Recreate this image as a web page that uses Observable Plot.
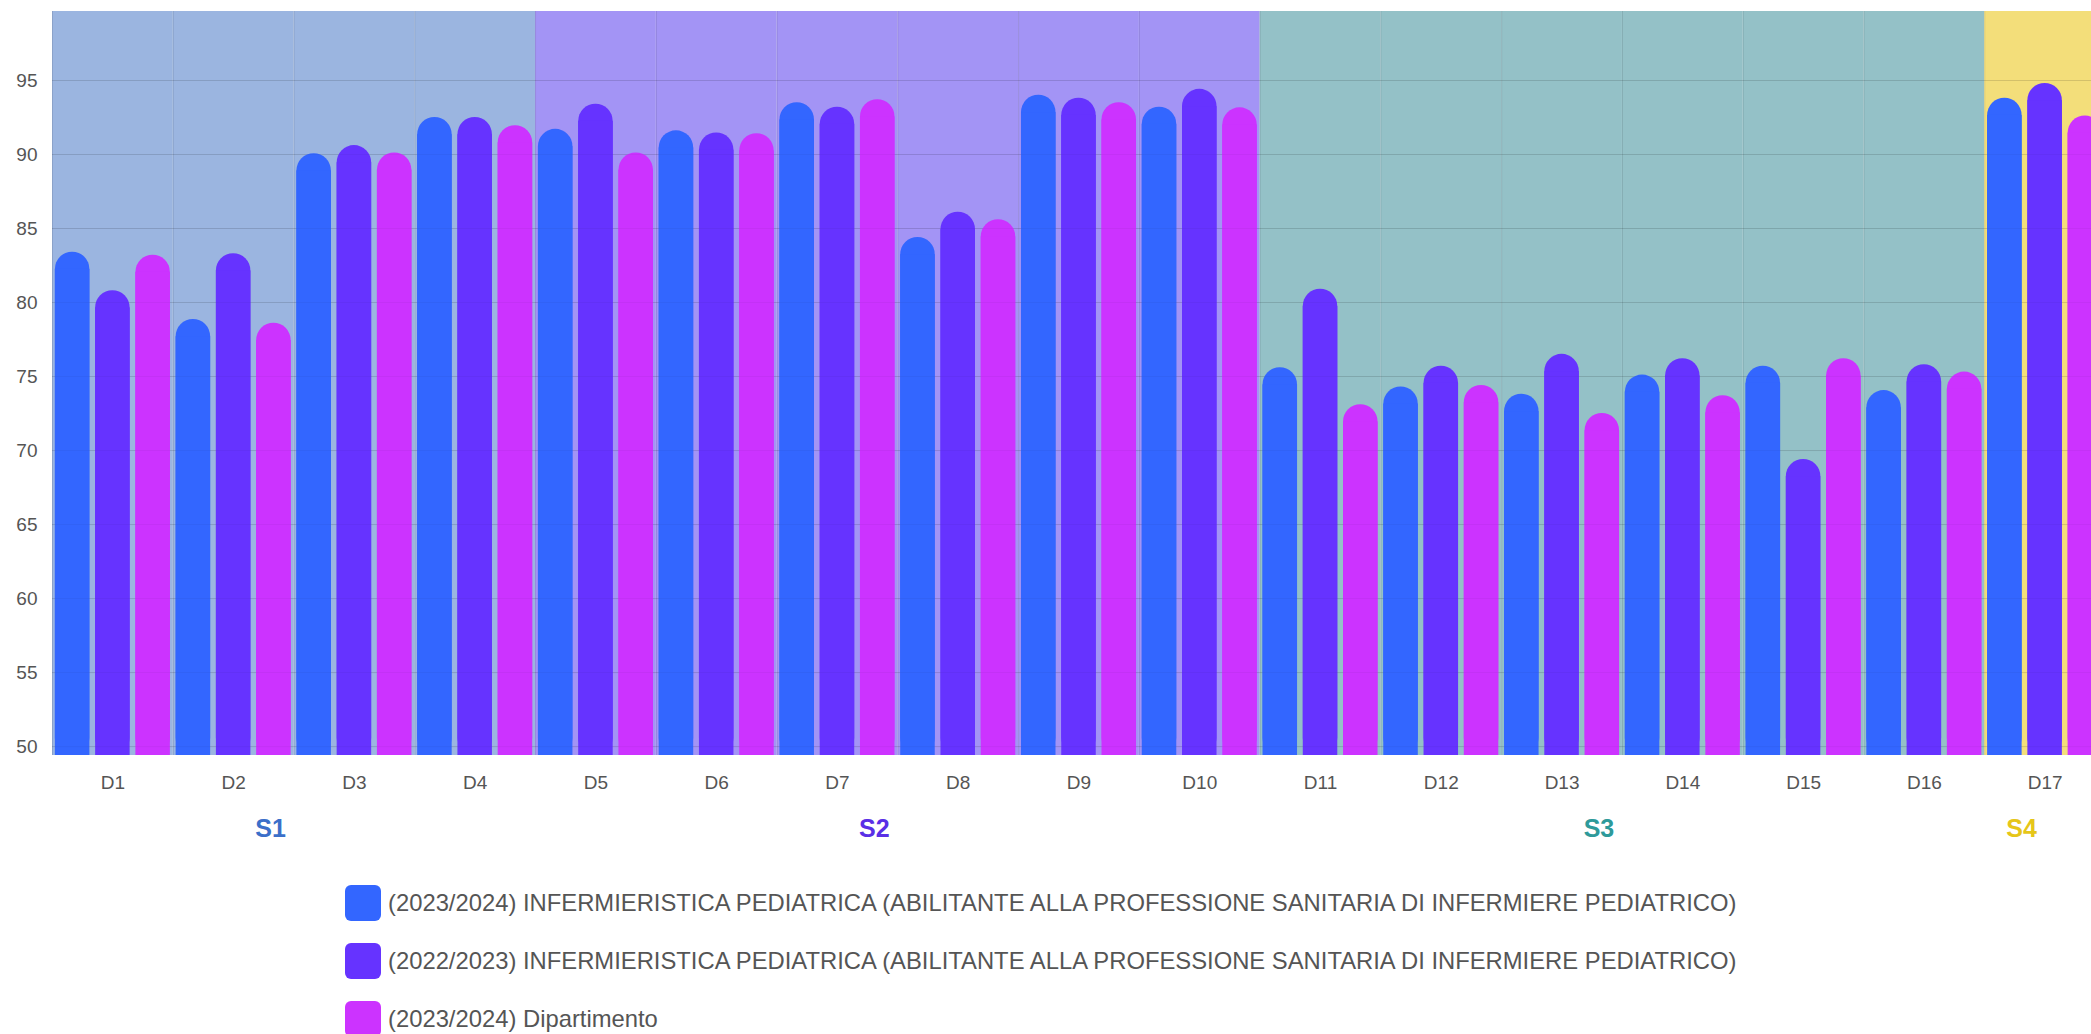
<!DOCTYPE html>
<html>
<head>
<meta charset="utf-8">
<script src="https://cdn.jsdelivr.net/npm/d3@7"></script>
<script src="https://cdn.jsdelivr.net/npm/@observablehq/plot@0.6"></script>
<style>
  html, body { margin: 0; padding: 0; background: #fff; overflow: hidden; }
  body { font-family: "Liberation Sans", Arial, sans-serif; }
  #chart svg { max-width: none !important; display: block; }
  #legend { padding-top: 29px; }
  .row { display: flex; align-items: center; height: 58px; }
  .sw { width: 36px; height: 36px; border-radius: 6px; margin-left: 345px; margin-right: 7px; flex: none; }
  .lb { font-size: 23.8px; color: #555; white-space: nowrap; }
</style>
</head>
<body>
<div id="chart"></div>
<div id="legend"></div>
<script>
// ---- data ----
const categories = ["D1","D2","D3","D4","D5","D6","D7","D8","D9","D10","D11","D12","D13","D14","D15","D16","D17"];
const categorySection = ["S1","S1","S1","S1","S2","S2","S2","S2","S2","S2","S3","S3","S3","S3","S3","S3","S4"];
const sectionNames = ["S1","S2","S3","S4"];
const seriesNames = [
  "(2023/2024) INFERMIERISTICA PEDIATRICA (ABILITANTE ALLA PROFESSIONE SANITARIA DI INFERMIERE PEDIATRICO)",
  "(2022/2023) INFERMIERISTICA PEDIATRICA (ABILITANTE ALLA PROFESSIONE SANITARIA DI INFERMIERE PEDIATRICO)",
  "(2023/2024) Dipartimento"
];
const values2324 = [83.4, 78.85, 90.05, 92.5, 91.7, 91.6, 93.5, 84.4, 94.0, 93.2, 75.6, 74.3, 73.8, 75.1, 75.7, 74.05, 93.8];
const values2223 = [80.8, 83.3, 90.6, 92.5, 93.4, 91.45, 93.2, 86.1, 93.8, 94.4, 80.9, 75.7, 76.5, 76.2, 69.4, 75.8, 94.8];
const valuesDip  = [83.2, 78.6, 90.1, 91.95, 90.1, 91.4, 93.7, 85.6, 93.5, 93.15, 73.1, 74.4, 72.5, 73.7, 76.2, 75.3, 92.6];
const yTicks = [50, 55, 60, 65, 70, 75, 80, 85, 90, 95];
const yDomain = [49.4, 99.66];

// ---- styles ----
const seriesColors = ["#3366ff", "#6633ff", "#cc33ff"];
const sectionFill = ["#9bb5e0", "#a394f5", "#94c1c7", "#f3de7a"];
const sectionText = ["#3b6fc9", "#5a2fe6", "#2e9a9a", "#e6c619"];

const W = 2105, marginLeft = 52, marginRight = 0, marginTop = 11, marginBottom = 90;
const H = 755 + marginBottom;
const bw = (W - marginLeft - marginRight) / categories.length;
const slot = bw / 3;
const barW = slot * 0.857;
const r = barW / 2;
const pxPerUnit = (H - marginTop - marginBottom) / (yDomain[1] - yDomain[0]);

const bgRows = categories.map((c, i) => ({cat: c, section: categorySection[i]}));
const seriesValues = [values2324, values2223, valuesDip];

const marks = [];
marks.push(Plot.barY(bgRows, {
  x: "cat", y1: yDomain[0], y2: yDomain[1], inset: 0,
  fill: d => sectionFill[sectionNames.indexOf(d.section)]
}));
marks.push(Plot.gridY(yTicks, {stroke: "#000", strokeOpacity: 0.1}));
marks.push(Plot.ruleX(categories, {x: d => d, dx: -bw / 2, stroke: "#000", strokeOpacity: 0.1}));

seriesValues.forEach((vals, s) => {
  const rows = categories.map((c, i) => ({cat: c, v: vals[i]}));
  const insetLeft = s * slot + (slot - barW) / 2;
  const insetRight = bw - insetLeft - barW;
  marks.push(Plot.barY(rows, {
    x: "cat", y1: yDomain[0], y2: "v", insetLeft, insetRight,
    rx: r, ry: r, fill: seriesColors[s]
  }));
  marks.push(Plot.barY(rows, {
    x: "cat", y1: yDomain[0], y2: d => d.v - r / pxPerUnit, insetLeft, insetRight,
    fill: seriesColors[s]
  }));
});
marks.push(Plot.gridY(yTicks, {stroke: "#000", strokeOpacity: 0.04}));

sectionNames.forEach((name, k) => {
  const idx = categorySection.map((s, i) => s === name ? i : -1).filter(i => i >= 0);
  const n = idx.length;
  marks.push(Plot.text([name], {
    x: () => categories[idx[0]],
    frameAnchor: "bottom", dy: 73, dx: (n - 1) * bw / 2 - 23.5,
    text: d => d, fill: sectionText[k], fontSize: 25, fontWeight: "bold",
    lineAnchor: "middle", textAnchor: "middle"
  }));
});

const chart = Plot.plot({
  width: W, height: H,
  marginLeft, marginRight, marginTop, marginBottom,
  style: {fontSize: "19px", fontFamily: "'Liberation Sans', Arial, sans-serif", color: "#555", background: "transparent"},
  x: {domain: categories, padding: 0, round: false, tickSize: 0, tickPadding: 20, label: null},
  y: {domain: yDomain, ticks: yTicks, tickSize: 0, tickPadding: 15, label: null},
  color: {type: "identity"},
  marks
});
document.getElementById("chart").appendChild(chart);

// legend
const legend = document.getElementById("legend");
seriesNames.forEach((name, s) => {
  const row = document.createElement("div");
  row.className = "row";
  const sw = document.createElement("div");
  sw.className = "sw";
  sw.style.background = seriesColors[s];
  const lb = document.createElement("span");
  lb.className = "lb";
  lb.textContent = name;
  row.appendChild(sw); row.appendChild(lb);
  legend.appendChild(row);
});
</script>
</body>
</html>
